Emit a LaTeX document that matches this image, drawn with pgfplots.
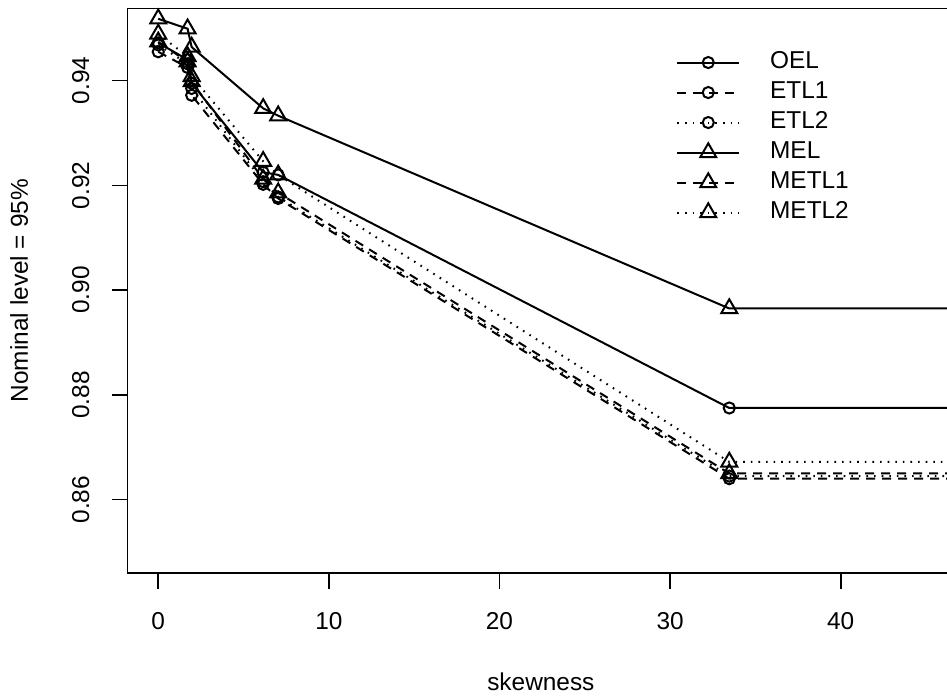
\documentclass[border=0pt]{standalone}
\usepackage{pgfplots}
\pgfplotsset{compat=1.18}
\usepackage{pgfplotstable}
\usepackage{fontspec}
\setmainfont{Liberation Sans}
\usetikzlibrary{calc}

\newcommand\fs{\fontsize{12.2}{14.6}\selectfont}

% coverage against skewness; last row only carries the flat tail past the frame
\pgfplotstableread{
x      OEL    ETL1   ETL2   MEL    METL1  METL2
0      0.9472 0.9455 0.9468 0.9518 0.9474 0.9489
1.72   0.9440 0.9425 0.9432 0.9499 0.9436 0.9446
1.96   0.9395 0.9372 0.9385 0.9464 0.9398 0.9408
6.15   0.9225 0.9202 0.9207 0.9347 0.9212 0.9246
7.03   0.9220 0.9175 0.9178 0.9333 0.9186 0.9220
33.47  0.8775 0.8640 0.8645 0.8965 0.8650 0.8672
60     0.8775 0.8640 0.8645 0.8965 0.8650 0.8672
}\cover

\begin{document}
\begin{tikzpicture}
\begin{axis}[
  name=ax,
  scale only axis,
  width=413.15pt, height=282.35pt,
  xmin=-1.79, xmax=46.64, ymin=0.8460, ymax=0.9538,
  xtick={0,10,20,30,40},
  ytick={0.86,0.88,0.90,0.92,0.94},
  xtick pos=bottom, ytick pos=left,
  tick align=outside, major tick length=7.8pt,
  every tick/.style={black, line width=0.8pt},
  axis line style={line width=0.8pt},
  /pgf/number format/assume math mode=true,
  scaled y ticks=false,
  yticklabel={\pgfmathprintnumber[fixed,fixed zerofill,precision=2]{\tick}},
  ticklabel style={font=\fs},
  xticklabel style={anchor=north, inner sep=0pt, yshift=-11.55pt},
  yticklabel style={xshift=-11.2pt, rotate=90, anchor=south, inner sep=0pt},
  xlabel={skewness},
  ylabel={Nominal level = 95\%},
  every axis x label/.style={at={(axis description cs:0.5,0)}, anchor=base,
    yshift=-58.85pt, inner sep=0pt, font=\fs},
  every axis y label/.style={at={(axis description cs:0,0.5)},
    xshift=-49.85pt, rotate=90, anchor=base, inner sep=0pt, font=\fs},
  legend style={draw=none, fill=none, font=\fs,
    at={(axis cs:30.35,0.9457)}, anchor=north west, inner sep=0pt,
    row sep=3.6pt, column sep=15pt,
    nodes={inner sep=0pt, text height=8.7pt, text depth=2.7pt}},
  legend cell align=left,
  legend image code/.code={
    \draw[mark repeat=2, mark phase=2]
      plot coordinates {(0pt,0pt) (15.4pt,0pt) (30.85pt,0pt)};
  },
]
\addplot[black, line width=1pt, mark=o, mark size=2.8pt, mark options={solid}]
  table[x=x, y=OEL] {\cover};
\addplot[black, line width=1pt, dash pattern=on 4.5pt off 3.5pt,
  mark=o, mark size=2.8pt, mark options={solid}]
  table[x=x, y=ETL1] {\cover};
\addplot[black, line width=1pt, dash pattern=on 0.8pt off 3pt,
  mark=o, mark size=2.8pt, mark options={solid}]
  table[x=x, y=ETL2] {\cover};
\addplot[black, line width=1pt, mark=triangle, mark size=4.6pt, mark options={solid}]
  table[x=x, y=MEL] {\cover};
\addplot[black, line width=1pt, dash pattern=on 4.5pt off 3.5pt,
  mark=triangle, mark size=4.6pt, mark options={solid}]
  table[x=x, y=METL1] {\cover};
\addplot[black, line width=1pt, dash pattern=on 0.8pt off 3pt,
  mark=triangle, mark size=4.6pt, mark options={solid}]
  table[x=x, y=METL2] {\cover};
\legend{OEL, ETL1, ETL2, MEL, METL1, METL2}
\end{axis}
\pgfresetboundingbox
\path[use as bounding box] ($(ax.south west)+(-63.85pt,-62.5pt)$)
  rectangle ($(ax.north east)+(-3.5pt,4.15pt)$);
\end{tikzpicture}
\end{document}
